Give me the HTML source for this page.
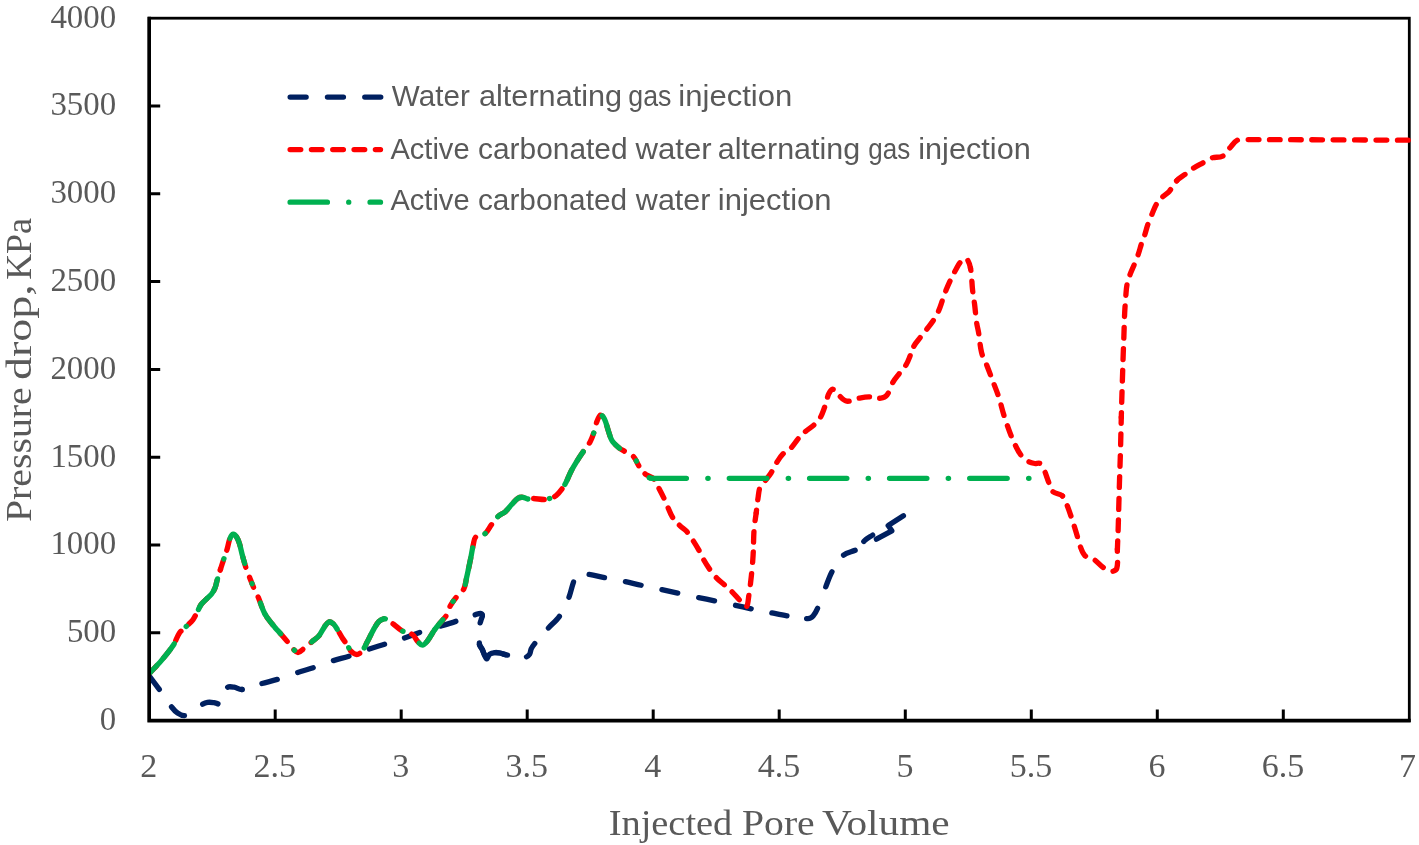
<!DOCTYPE html>
<html><head><meta charset="utf-8"><style>
html,body{margin:0;padding:0;background:#fff;width:1419px;height:845px;overflow:hidden}
svg{display:block}
.ax{font-family:"Liberation Serif",serif;font-size:34px;fill:#595959}
.ttl{font-family:"Liberation Serif",serif;font-size:36px;fill:#595959}
.lg{font-family:"Liberation Sans",sans-serif;font-size:29.4px;fill:#595959}
</style></head><body>
<svg style="will-change:transform" width="1419" height="845" viewBox="0 0 1419 845">
<defs><clipPath id="pc"><rect x="148.2" y="14" width="1266" height="707.5"/></clipPath></defs>
<rect x="0" y="0" width="1419" height="845" fill="#fff"/>
<text x="116.2" y="729.9" text-anchor="end" class="ax" textLength="16.4" lengthAdjust="spacingAndGlyphs">0</text><text x="116.2" y="642.1" text-anchor="end" class="ax" textLength="49.3" lengthAdjust="spacingAndGlyphs">500</text><text x="116.2" y="554.3" text-anchor="end" class="ax" textLength="65.8" lengthAdjust="spacingAndGlyphs">1000</text><text x="116.2" y="466.5" text-anchor="end" class="ax" textLength="65.8" lengthAdjust="spacingAndGlyphs">1500</text><text x="116.2" y="378.7" text-anchor="end" class="ax" textLength="65.8" lengthAdjust="spacingAndGlyphs">2000</text><text x="116.2" y="290.9" text-anchor="end" class="ax" textLength="65.8" lengthAdjust="spacingAndGlyphs">2500</text><text x="116.2" y="203.1" text-anchor="end" class="ax" textLength="65.8" lengthAdjust="spacingAndGlyphs">3000</text><text x="116.2" y="115.3" text-anchor="end" class="ax" textLength="65.8" lengthAdjust="spacingAndGlyphs">3500</text><text x="116.2" y="27.5" text-anchor="end" class="ax" textLength="65.8" lengthAdjust="spacingAndGlyphs">4000</text><text x="148.8" y="777.3" text-anchor="middle" class="ax">2</text><text x="274.8" y="777.3" text-anchor="middle" class="ax">2.5</text><text x="400.8" y="777.3" text-anchor="middle" class="ax">3</text><text x="526.8" y="777.3" text-anchor="middle" class="ax">3.5</text><text x="652.8" y="777.3" text-anchor="middle" class="ax">4</text><text x="778.9" y="777.3" text-anchor="middle" class="ax">4.5</text><text x="904.9" y="777.3" text-anchor="middle" class="ax">5</text><text x="1030.9" y="777.3" text-anchor="middle" class="ax">5.5</text><text x="1156.9" y="777.3" text-anchor="middle" class="ax">6</text><text x="1282.9" y="777.3" text-anchor="middle" class="ax">6.5</text><text x="1407.4" y="777.3" text-anchor="middle" class="ax">7</text>
<g fill="none" stroke-width="5.33" stroke-linecap="round" stroke-linejoin="round">
<rect x="149.2" y="18.2" width="1260.1" height="702.4" fill="none" stroke="#000" stroke-width="2.8" stroke-linejoin="miter"/>
<g clip-path="url(#pc)">
<path d="M149.30,676.10 C152.73,680.67 156.26,685.17 159.60,689.80 C163.69,695.47 167.33,701.49 171.60,707.00 C173.33,709.23 175.30,711.47 177.60,713.00 C179.60,714.33 182.24,715.76 184.50,715.60 C187.04,715.42 189.67,713.47 192.00,712.00 C195.37,709.87 198.22,706.89 201.60,704.80 C203.39,703.69 205.45,702.76 207.50,702.40 C209.59,702.03 211.85,702.36 214.00,702.60 C215.95,702.82 218.49,704.74 219.80,703.80 C222.02,702.21 223.20,698.02 224.60,695.00 C225.73,692.56 225.66,688.81 227.40,687.40 C228.86,686.21 231.98,686.88 234.20,687.20 C236.85,687.58 239.40,689.83 242.00,689.50" stroke="#002060" stroke-dasharray="15.97 21.28 16.09 21.62 15.79 20.48 15.16 177.77" stroke-dashoffset="303.47"/>
<path d="M242.00,689.50 C248.27,688.70 254.51,685.60 260.80,683.80 C266.51,682.17 272.33,680.94 278.00,679.20 C284.36,677.24 290.57,674.76 296.90,672.70 C302.57,670.86 308.35,669.38 314.00,667.50 C320.08,665.48 326.00,662.97 332.10,661.00 C338.10,659.07 344.30,657.74 350.30,655.80 C356.44,653.81 362.38,651.25 368.50,649.20" stroke="#002060" stroke-dasharray="0.25 20.61 15.84 21.62 16.16 21.47 16.15 182.87" stroke-dashoffset="0.00"/>
<path d="M368.50,649.20 C374.12,647.32 379.84,645.77 385.50,644.00 C391.58,642.10 397.67,640.24 403.70,638.20 C409.17,636.34 414.51,634.10 420.00,632.30 C426.81,630.07 433.74,628.20 440.60,626.10 C445.84,624.50 451.09,622.90 456.30,621.20 C462.52,619.17 468.67,616.92 474.90,614.90 C476.81,614.28 478.96,613.21 480.70,613.30 C481.46,613.34 482.35,614.52 482.40,615.30" stroke="#002060" stroke-dasharray="15.95 20.95 16.10 21.98 15.90 20.43 8.53 171.48" stroke-dashoffset="290.50"/>
<path d="M482.40,615.30 C482.49,616.72 481.52,618.36 481.10,619.90 C480.69,621.40 480.00,622.86 479.90,624.40 C479.47,631.12 478.85,638.14 479.50,644.70 C479.68,646.57 481.54,647.98 482.40,649.70 C483.88,652.68 484.93,657.84 486.50,658.80 C487.39,659.34 488.36,655.27 489.80,654.20 C491.13,653.21 493.10,652.80 494.80,652.60 C496.43,652.40 498.17,652.68 499.80,653.00 C501.73,653.38 503.55,654.39 505.50,654.70 C512.08,655.75 519.00,657.23 525.40,657.10 C527.03,657.07 528.67,655.51 529.60,654.20 C530.61,652.78 530.42,650.55 531.20,648.90 C532.05,647.12 533.23,645.44 534.50,643.90 C538.90,638.54 543.55,633.35 548.20,628.20" stroke="#002060" stroke-dasharray="7.91 20.04 12.51 16.68 12.51 19.17 16.04 175.65" stroke-dashoffset="0.00"/>
<path d="M548.20,628.20 C551.91,624.09 556.54,620.65 559.60,616.10 C563.41,610.45 566.21,603.96 568.80,597.60 C570.94,592.36 571.75,586.57 573.80,581.30 C574.81,578.70 575.84,575.08 578.00,574.00 C580.57,572.72 584.71,573.75 588.00,574.20 C593.71,574.98 599.32,576.58 605.00,577.70 C611.49,578.98 618.02,580.05 624.50,581.40 C630.16,582.58 635.75,584.06 641.40,585.30" stroke="#002060" stroke-dasharray="15.97 21.47 15.77 20.57 15.71 21.33 16.06 178.04" stroke-dashoffset="304.59"/>
<path d="M641.40,585.30 C647.89,586.73 654.41,588.00 660.90,589.40 C666.81,590.67 672.70,592.01 678.60,593.30 C685.10,594.71 691.59,596.14 698.10,597.50 C703.72,598.67 709.38,599.73 715.00,600.90 C721.51,602.26 728.00,603.69 734.50,605.10 C740.40,606.39 746.29,607.76 752.20,609.00 C758.39,610.30 764.60,611.49 770.80,612.70" stroke="#002060" stroke-dasharray="16.12 21.50 16.13 21.50 15.99 203.27" stroke-dashoffset="273.51"/>
<path d="M770.80,612.70 C776.73,613.86 782.64,615.15 788.60,616.10 C795.04,617.12 801.67,618.60 808.00,618.60 C809.84,618.60 811.91,617.47 813.10,616.10 C815.31,613.57 816.81,610.11 818.20,606.90 C821.01,600.41 823.10,593.59 825.70,587.00 C827.80,581.69 829.55,576.17 832.30,571.20 C835.35,565.67 838.49,559.52 843.10,555.50 C847.05,552.05 853.64,551.82 858.00,548.80" stroke="#002060" stroke-dasharray="15.37 19.87 16.09 23.03 16.30 20.42 12.47 179.19" stroke-dashoffset="301.65"/>
<path d="M858.00,548.80 C860.81,546.85 862.07,542.98 864.60,540.60 C866.93,538.41 869.93,536.93 872.60,535.10" stroke="#002060" stroke-dasharray="10.92 79.68" stroke-dashoffset="81.22"/>
<path d="M479.50,644.70 C480.47,646.37 481.54,647.98 482.40,649.70 C483.88,652.68 484.93,657.84 486.50,658.80 C487.39,659.34 488.36,655.27 489.80,654.20 C491.13,653.21 493.10,652.80 494.80,652.60 C496.43,652.40 498.17,652.68 499.80,653.00 C501.73,653.38 503.60,654.13 505.50,654.70" stroke="#002060"/><path d="M876.4,539.2 L891.8,530.8 L888.2,525.6 L903.4,515.8" stroke="#002060"/>
<path d="M149.30,673.50 C153.30,669.20 157.51,665.07 161.30,660.60 C165.51,655.64 169.74,650.61 173.30,645.20 C175.74,641.48 176.83,636.86 179.30,633.20 C180.93,630.79 183.49,629.06 185.60,627.00 C187.96,624.69 190.71,622.69 192.70,620.10 C194.65,617.56 195.86,614.45 197.40,611.60 C198.69,609.21 199.62,606.57 201.20,604.40 C202.78,602.23 204.98,600.52 206.90,598.60 C208.45,597.05 210.30,595.74 211.60,594.00 C213.07,592.04 214.30,589.79 215.20,587.50 C216.20,584.95 216.53,582.15 217.30,579.50 C218.30,576.05 219.41,572.63 220.50,569.20" stroke="#FF0000" stroke-dasharray="10.51 10.66 10.66 10.66 10.66 10.62 10.57 10.57 10.57 10.57 10.57 10.57 1.31 178.50" stroke-dashoffset="0.00"/>
<path d="M220.50,569.20 C221.61,565.73 222.76,562.26 223.90,558.80 C224.99,555.50 226.20,552.23 227.20,548.90 C228.24,545.43 228.64,541.69 230.00,538.40 C230.67,536.79 232.08,534.46 233.30,534.20 C234.28,533.99 235.83,535.82 236.60,537.00 C237.90,538.99 238.77,541.39 239.50,543.70 C240.67,547.39 241.29,551.25 242.30,555.00 C243.49,559.42 244.68,563.85 246.10,568.20 C247.21,571.59 248.60,574.88 249.90,578.20 C251.26,581.68 252.60,585.18 254.10,588.60 C255.43,591.64 257.09,594.54 258.40,597.60 C260.76,603.11 262.20,609.11 265.10,614.30" stroke="#FF0000" stroke-dasharray="9.26 10.67 10.76 10.76 10.76 10.76 10.76 10.76 10.76 10.76 10.76 174.84" stroke-dashoffset="0.00"/>
<path d="M265.10,614.30 C267.86,619.24 271.84,623.54 275.40,628.00 C276.81,629.77 278.50,631.30 280.00,633.00 C282.64,636.00 285.25,639.03 287.80,642.10 C290.01,644.76 291.89,647.79 294.30,650.20 C295.35,651.25 296.94,652.74 298.20,652.50 C300.21,652.11 302.20,649.78 304.10,648.30 C306.77,646.22 309.32,643.99 311.90,641.80 C314.32,639.75 317.08,637.99 319.10,635.60 C321.22,633.09 322.39,629.80 324.30,627.10 C325.62,625.24 327.05,622.52 328.80,621.90 C330.08,621.45 332.22,622.80 333.40,623.90 C335.26,625.63 336.49,628.18 337.90,630.40 C339.52,632.94 340.87,635.66 342.50,638.20 C343.93,640.43 345.65,642.48 347.10,644.70" stroke="#FF0000" stroke-dasharray="10.76 10.76 10.76 10.76 10.76 10.76 10.76 10.76 10.76 10.76 10.76 177.81" stroke-dashoffset="293.47"/>
<path d="M347.10,644.70 C348.48,646.81 349.28,649.46 351.00,651.20 C352.51,652.73 354.89,654.50 356.80,654.50 C358.56,654.50 360.72,652.73 362.00,651.20 C364.18,648.60 365.55,645.18 367.20,642.10 C369.49,637.81 371.41,633.32 373.80,629.10 C375.34,626.39 376.87,623.45 379.00,621.30 C380.33,619.95 382.44,619.10 384.20,618.60 C384.81,618.43 385.53,618.95 386.10,619.30 C388.76,620.92 391.36,622.68 393.90,624.50 C396.80,626.58 399.30,629.34 402.40,631.00 C405.46,632.64 409.61,632.52 412.40,634.40 C414.61,635.89 415.52,639.07 417.40,641.10 C418.85,642.67 420.74,645.20 422.40,645.20 C424.04,645.20 425.99,642.76 427.30,641.10 C430.13,637.52 432.09,633.21 434.80,629.50" stroke="#FF0000" stroke-dasharray="10.76 10.76 10.76 10.76 10.76 10.76 10.76 10.76 10.76 10.76 10.76 186.05" stroke-dashoffset="297.70"/>
<path d="M434.80,629.50 C437.35,626.01 440.35,622.85 443.10,619.50 C444.21,618.15 445.59,616.94 446.40,615.40 C448.06,612.24 448.79,608.54 450.50,605.40 C452.09,602.48 454.20,599.80 456.30,597.20 C458.64,594.30 462.11,592.10 463.80,588.90 C465.54,585.60 465.76,581.45 466.60,577.70 C468.09,571.09 469.46,564.44 470.80,557.80 C471.69,553.41 472.27,548.95 473.30,544.60 C473.90,542.05 473.97,538.71 475.70,537.10 C477.84,535.11 482.45,535.72 484.90,533.80 C487.72,531.59 489.24,527.68 491.50,524.70" stroke="#FF0000" stroke-dasharray="10.76 10.76 10.76 10.76 10.76 10.76 10.76 10.76 10.76 10.76 10.76 181.40" stroke-dashoffset="293.28"/>
<path d="M491.50,524.70 C493.64,521.88 495.56,518.80 498.10,516.40 C500.26,514.36 503.35,513.36 505.60,511.40 C507.79,509.49 509.40,506.93 511.40,504.80 C513.53,502.53 515.50,499.82 518.00,498.20 C519.36,497.32 521.37,497.17 523.00,497.30 C524.67,497.43 526.22,498.80 527.90,499.00 C529.52,499.20 531.23,498.45 532.90,498.50 C536.77,498.62 540.65,499.50 544.50,499.50 C546.19,499.50 547.89,499.03 549.50,498.50 C551.76,497.76 554.24,497.11 556.10,495.70 C558.38,493.97 560.16,491.44 561.90,489.10 C563.46,487.01 564.81,484.72 566.00,482.40 C567.91,478.69 569.27,474.70 571.20,471.00 C573.24,467.10 575.57,463.34 577.90,459.60 C579.70,456.71 581.67,453.91 583.60,451.10" stroke="#FF0000" stroke-dasharray="10.76 10.76 10.76 10.76 10.76 10.76 10.76 10.76 10.76 10.76 10.76 190.57" stroke-dashoffset="298.24"/>
<path d="M583.60,451.10 C585.77,447.94 588.37,445.03 590.20,441.70 C591.83,438.73 592.93,435.43 594.00,432.20 C595.13,428.80 595.52,425.12 596.80,421.80 C597.72,419.42 599.11,415.67 600.60,415.10 C601.64,414.70 603.62,417.33 604.40,418.90 C606.15,422.40 606.88,426.52 608.20,430.30 C609.41,433.78 610.08,437.65 612.00,440.70 C613.85,443.65 616.80,446.02 619.50,448.30 C620.90,449.49 622.71,450.15 624.30,451.10 C627.44,452.98 631.19,454.29 633.70,456.80 C635.93,459.03 636.70,462.60 638.50,465.30 C640.50,468.30 642.45,471.56 645.10,473.90 C647.48,476.00 651.40,476.40 653.60,478.60" stroke="#FF0000" stroke-dasharray="10.76 10.76 10.76 10.76 10.76 10.76 10.76 10.76 10.52 10.28 10.09 186.81" stroke-dashoffset="293.86"/>
<path d="M653.60,478.60 C655.80,480.80 656.80,484.23 658.30,487.10 C660.60,491.50 662.88,495.91 665.00,500.40 C667.65,506.01 669.47,512.12 672.60,517.40 C674.50,520.62 677.43,523.23 680.10,525.90 C682.17,527.97 684.88,529.41 686.80,531.60 C689.32,534.48 691.31,537.86 693.40,541.10 C695.65,544.59 697.79,548.16 699.80,551.80 C701.33,554.56 702.44,557.56 704.00,560.30 C705.81,563.49 707.77,566.62 709.90,569.60 C712.00,572.55 714.21,575.48 716.70,578.10 C719.01,580.54 721.77,582.56 724.30,584.80" stroke="#FF0000" stroke-dasharray="0.47 10.83 10.76 10.70 10.51 10.32 10.59 10.86 10.80 10.73 10.81 10.88 10.71 179.05" stroke-dashoffset="0.00"/>
<path d="M724.30,584.80 C726.84,587.06 729.50,589.20 731.90,591.60 C734.57,594.27 736.90,597.26 739.50,600.00 C741.70,602.33 744.87,607.44 746.30,606.80 C747.97,606.04 748.20,599.51 748.80,595.80 C749.90,589.07 750.68,582.28 751.40,575.50 C752.12,568.75 752.71,561.98 753.10,555.20 C753.61,546.48 753.46,537.71 754.10,529.00 C754.50,523.61 755.52,518.27 756.20,512.90" stroke="#FF0000" stroke-dasharray="10.75 10.97 10.97 10.97 11.06 11.15 10.51 9.87 10.47 11.06 7.95 186.63" stroke-dashoffset="291.91"/>
<path d="M756.20,512.90 C756.88,507.54 757.38,502.14 758.20,496.80 C758.71,493.44 758.88,489.83 760.20,486.80 C761.22,484.46 763.58,482.77 765.20,480.70 C767.25,478.07 769.42,475.51 771.20,472.70 C773.45,469.14 775.05,465.16 777.30,461.60 C779.08,458.79 780.97,455.93 783.30,453.60 C785.67,451.23 789.03,449.87 791.40,447.50 C794.06,444.84 795.90,441.35 798.40,438.50 C800.60,435.99 802.98,433.59 805.50,431.40 C808.01,429.22 811.09,427.67 813.50,425.40 C816.09,422.97 818.75,420.35 820.50,417.30 C822.78,413.32 824.06,408.69 825.60,404.30" stroke="#FF0000" stroke-dasharray="2.76 10.35 10.64 10.94 10.81 10.68 10.66 10.63 10.56 10.48 10.54 10.59 10.59 183.44" stroke-dashoffset="0.00"/>
<path d="M825.60,404.30 C826.76,400.99 827.15,397.33 828.60,394.20 C829.48,392.30 831.16,389.06 832.60,389.20 C834.53,389.39 836.53,393.36 838.70,395.20 C841.23,397.36 843.72,400.75 846.70,401.20 C850.42,401.75 854.73,399.01 858.80,398.20 C862.10,397.54 865.46,396.80 868.80,396.80 C872.83,396.80 877.01,398.54 880.90,398.20 C883.04,398.01 885.62,396.90 886.90,395.20 C889.65,391.53 890.63,386.26 893.00,382.10 C894.69,379.13 897.03,376.54 899.10,373.80 C901.43,370.74 904.20,367.96 906.20,364.70 C907.90,361.92 908.93,358.73 910.20,355.70" stroke="#FF0000" stroke-dasharray="10.40 10.21 10.38 10.54 10.38 10.21 10.73 11.25 10.94 10.63 10.55 181.39" stroke-dashoffset="290.24"/>
<path d="M910.20,355.70 C911.60,352.36 912.46,348.74 914.20,345.60 C915.80,342.71 918.17,340.25 920.20,337.60 C922.54,334.55 924.96,331.55 927.30,328.50 C929.33,325.85 931.49,323.29 933.30,320.50 C935.19,317.59 936.97,314.56 938.40,311.40 C940.00,307.86 941.07,304.07 942.40,300.40 C943.74,296.70 944.95,292.95 946.40,289.30 C947.62,286.22 948.98,283.19 950.40,280.20 C952.01,276.82 953.68,273.46 955.50,270.20 C957.04,267.43 958.36,264.28 960.50,262.10 C962.02,260.55 965.16,258.18 966.50,259.00 C968.49,260.22 969.87,264.95 970.50,268.20" stroke="#FF0000" stroke-dasharray="10.69 10.91 10.78 10.64 10.72 10.80 10.68 10.56 10.31 10.06 8.20 184.45" stroke-dashoffset="288.74"/>
<path d="M970.50,268.20 C971.90,275.39 971.77,282.95 972.60,290.30 C973.13,295.02 974.01,299.69 974.60,304.40 C975.35,310.42 975.75,316.50 976.60,322.50 C977.08,325.90 978.04,329.21 978.60,332.60 C979.71,339.28 979.97,346.17 981.60,352.70 C982.64,356.87 985.01,360.67 986.60,364.70 C988.71,370.04 990.68,375.43 992.70,380.80 C994.71,386.16 996.93,391.46 998.70,396.90" stroke="#FF0000" stroke-dasharray="2.23 10.80 10.68 10.56 10.59 10.63 10.68 10.73 10.78 10.83 10.65 10.47 10.63 182.72" stroke-dashoffset="0.00"/>
<path d="M998.70,396.90 C1000.63,402.83 1001.98,408.94 1003.80,414.90 C1005.11,419.20 1006.61,423.46 1008.10,427.70 C1009.11,430.56 1010.14,433.40 1011.30,436.20 C1012.64,439.44 1014.01,442.68 1015.60,445.80 C1017.21,448.95 1018.70,452.29 1020.90,455.00 C1022.93,457.49 1025.58,459.72 1028.30,461.40 C1030.18,462.56 1032.52,463.11 1034.70,463.50 C1036.45,463.81 1038.81,462.59 1040.10,463.50 C1042.01,464.85 1043.19,467.89 1044.30,470.30 C1046.03,474.06 1047.06,478.14 1048.60,482.00 C1049.89,485.24 1050.50,489.29 1052.80,491.60 C1055.10,493.92 1059.97,493.66 1062.40,495.90" stroke="#FF0000" stroke-dasharray="10.85 10.92 10.79 10.66 10.71 10.76 10.80 10.84 10.64 10.43 10.58 184.63" stroke-dashoffset="294.28"/>
<path d="M1062.40,495.90 C1064.60,497.93 1065.46,501.48 1066.70,504.40 C1068.32,508.22 1069.64,512.18 1071.00,516.10 C1072.10,519.28 1073.10,522.49 1074.10,525.70 C1075.20,529.22 1076.24,532.77 1077.30,536.30 C1078.37,539.87 1079.15,543.55 1080.50,547.00 C1081.65,549.95 1082.60,553.47 1084.80,555.50 C1087.23,557.74 1091.49,557.92 1094.40,559.80 C1097.52,561.82 1099.83,565.09 1102.90,567.20 C1105.50,568.99 1108.61,571.28 1111.40,571.50 C1113.24,571.65 1116.31,570.14 1116.80,568.30 C1118.31,562.67 1117.18,555.50 1117.40,549.10" stroke="#FF0000" stroke-dasharray="0.12 10.96 10.87 10.78 10.77 10.76 10.65 10.55 10.72 10.89 10.89 10.89 2.59 171.44" stroke-dashoffset="0.00"/>
<path d="M1117.40,549.10 C1117.65,542.00 1117.97,534.90 1118.20,527.80 C1118.47,519.30 1118.66,510.80 1118.90,502.30 C1119.10,495.20 1119.28,488.10 1119.50,481.00 C1119.78,471.77 1120.14,462.53 1120.40,453.30 C1120.74,441.27 1120.98,429.23 1121.30,417.20" stroke="#FF0000" stroke-dasharray="8.09 10.48 10.56 10.65 10.89 11.14 10.75 10.36 10.63 10.90 10.78 10.65 6.08 181.96" stroke-dashoffset="0.00"/>
<path d="M1121.30,417.20 C1121.52,409.00 1121.76,400.80 1122.00,392.60 C1122.19,386.27 1122.40,379.93 1122.60,373.60 C1122.80,367.30 1122.98,361.00 1123.20,354.70 C1123.42,348.40 1123.68,342.10 1123.90,335.80 C1124.12,329.47 1124.25,323.13 1124.50,316.80 C1124.65,313.03 1124.86,309.26 1125.10,305.50 C1125.30,302.33 1125.51,299.16 1125.80,296.00" stroke="#FF0000" stroke-dasharray="4.47 10.45 10.57 10.70 10.74 10.78 10.75 10.72 10.77 10.83 10.66 171.29" stroke-dashoffset="0.00"/>
<path d="M1125.80,296.00 C1126.15,292.20 1126.25,288.33 1127.00,284.60 C1127.71,281.06 1128.97,277.61 1130.20,274.20 C1131.34,271.04 1132.84,268.02 1134.10,264.90 C1135.54,261.35 1137.04,257.82 1138.30,254.20 C1139.51,250.72 1140.33,247.10 1141.50,243.60 C1142.47,240.70 1143.73,237.90 1144.70,235.00 C1145.87,231.50 1146.68,227.88 1147.90,224.40 C1149.18,220.78 1150.70,217.24 1152.20,213.70 C1153.57,210.47 1154.66,207.05 1156.50,204.10 C1158.20,201.38 1160.52,198.98 1162.80,196.70 C1164.75,194.75 1167.40,193.47 1169.20,191.40 C1172.03,188.14 1173.76,183.84 1176.70,180.70" stroke="#FF0000" stroke-dasharray="10.53 10.56 10.71 10.86 10.67 10.49 10.70 10.90 10.64 10.37 10.50 10.63 0.28 179.13" stroke-dashoffset="306.33"/>
<path d="M1176.70,180.70 C1179.09,178.14 1182.37,176.43 1185.20,174.30 C1188.03,172.17 1190.73,169.82 1193.70,167.90 C1196.76,165.92 1200.10,164.37 1203.30,162.60 C1206.13,161.03 1208.77,158.91 1211.80,157.90 C1215.17,156.78 1219.54,157.86 1222.50,156.20 C1225.60,154.46 1227.43,150.46 1230.00,147.70 C1232.39,145.13 1234.44,141.61 1237.40,140.20 C1240.10,138.91 1243.79,139.60 1247.00,139.60 C1300.99,139.60 1355.00,140.00 1409.00,140.20" stroke="#FF0000" stroke-dasharray="10.39 10.71 10.75 10.79 10.69 10.59 10.77 10.94 10.75 10.57 10.57 10.57 10.57 10.57 10.64 10.72 10.72 10.72 10.72 10.72 10.72 10.72 10.69 296.66" stroke-dashoffset="0.00"/>
<path d="M149.30,673.50 C153.30,669.20 157.51,665.07 161.30,660.60 C165.51,655.64 169.74,650.61 173.30,645.20 C175.74,641.48 176.83,636.86 179.30,633.20 C180.93,630.79 183.49,629.06 185.60,627.00 C187.96,624.69 190.71,622.69 192.70,620.10 C194.65,617.56 195.86,614.45 197.40,611.60 C198.69,609.21 199.62,606.57 201.20,604.40 C202.78,602.23 204.98,600.52 206.90,598.60 C208.45,597.05 210.30,595.74 211.60,594.00 C213.07,592.04 214.30,589.79 215.20,587.50 C216.20,584.95 216.53,582.15 217.30,579.50 C218.30,576.05 219.41,572.63 220.50,569.20" stroke="#00B050" stroke-dasharray="37.31 21.32 0.30 20.78 36.87 180.11" stroke-dashoffset="295.08"/>
<path d="M220.50,569.20 C221.61,565.73 222.76,562.26 223.90,558.80 C224.99,555.50 226.20,552.23 227.20,548.90 C228.24,545.43 228.64,541.69 230.00,538.40 C230.67,536.79 232.08,534.46 233.30,534.20 C234.28,533.99 235.83,535.82 236.60,537.00 C237.90,538.99 238.77,541.39 239.50,543.70 C240.67,547.39 241.29,551.25 242.30,555.00 C243.49,559.42 244.68,563.85 246.10,568.20 C247.21,571.59 248.60,574.88 249.90,578.20 C251.26,581.68 252.60,585.18 254.10,588.60 C255.43,591.64 257.09,594.54 258.40,597.60 C260.76,603.11 262.20,609.11 265.10,614.30" stroke="#00B050" stroke-dasharray="0.30 21.14 37.50 21.43 0.30 21.04 12.36 185.61" stroke-dashoffset="288.91"/>
<path d="M265.10,614.30 C267.86,619.24 271.84,623.54 275.40,628.00 C276.81,629.77 278.50,631.30 280.00,633.00 C282.64,636.00 285.25,639.03 287.80,642.10 C290.01,644.76 291.89,647.79 294.30,650.20 C295.35,651.25 296.94,652.74 298.20,652.50 C300.21,652.11 302.20,649.78 304.10,648.30 C306.77,646.22 309.32,643.99 311.90,641.80 C314.32,639.75 317.08,637.99 319.10,635.60 C321.22,633.09 322.39,629.80 324.30,627.10 C325.62,625.24 327.05,622.52 328.80,621.90 C330.08,621.45 332.22,622.80 333.40,623.90 C335.26,625.63 336.49,628.18 337.90,630.40 C339.52,632.94 340.87,635.66 342.50,638.20 C343.93,640.43 345.65,642.48 347.10,644.70" stroke="#00B050" stroke-dasharray="24.96 21.33 0.30 21.60 38.33 175.11" stroke-dashoffset="0.00"/>
<path d="M347.10,644.70 C348.48,646.81 349.28,649.46 351.00,651.20 C352.51,652.73 354.89,654.50 356.80,654.50 C358.56,654.50 360.72,652.73 362.00,651.20 C364.18,648.60 365.55,645.18 367.20,642.10 C369.49,637.81 371.41,633.32 373.80,629.10 C375.34,626.39 376.87,623.45 379.00,621.30 C380.33,619.95 382.44,619.10 384.20,618.60 C384.81,618.43 385.53,618.95 386.10,619.30 C388.76,620.92 391.36,622.68 393.90,624.50 C396.80,626.58 399.30,629.34 402.40,631.00 C405.46,632.64 409.61,632.52 412.40,634.40 C414.61,635.89 415.52,639.07 417.40,641.10 C418.85,642.67 420.74,645.20 422.40,645.20 C424.04,645.20 425.99,642.76 427.30,641.10 C430.13,637.52 432.09,633.21 434.80,629.50" stroke="#00B050" stroke-dasharray="0.30 21.06 37.37 21.35 0.30 20.96 24.69 182.66" stroke-dashoffset="305.37"/>
<path d="M434.80,629.50 C437.35,626.01 440.35,622.85 443.10,619.50 C444.21,618.15 445.59,616.94 446.40,615.40 C448.06,612.24 448.79,608.54 450.50,605.40 C452.09,602.48 454.20,599.80 456.30,597.20 C458.64,594.30 462.11,592.10 463.80,588.90 C465.54,585.60 465.76,581.45 466.60,577.70 C468.09,571.09 469.46,564.44 470.80,557.80 C471.69,553.41 472.27,548.95 473.30,544.60 C473.90,542.05 473.97,538.71 475.70,537.10 C477.84,535.11 482.45,535.72 484.90,533.80 C487.72,531.59 489.24,527.68 491.50,524.70" stroke="#00B050" stroke-dasharray="12.50 21.25 0.30 20.96 37.19 21.25 0.30 174.92" stroke-dashoffset="0.00"/>
<path d="M491.50,524.70 C493.64,521.88 495.56,518.80 498.10,516.40 C500.26,514.36 503.35,513.36 505.60,511.40 C507.79,509.49 509.40,506.93 511.40,504.80 C513.53,502.53 515.50,499.82 518.00,498.20 C519.36,497.32 521.37,497.17 523.00,497.30 C524.67,497.43 526.22,498.80 527.90,499.00 C529.52,499.20 531.23,498.45 532.90,498.50 C536.77,498.62 540.65,499.50 544.50,499.50 C546.19,499.50 547.89,499.03 549.50,498.50 C551.76,497.76 554.24,497.11 556.10,495.70 C558.38,493.97 560.16,491.44 561.90,489.10 C563.46,487.01 564.81,484.72 566.00,482.40 C567.91,478.69 569.27,474.70 571.20,471.00 C573.24,467.10 575.57,463.34 577.90,459.60 C579.70,456.71 581.67,453.91 583.60,451.10" stroke="#00B050" stroke-dasharray="37.93 21.68 0.30 21.21 37.64 190.09" stroke-dashoffset="298.64"/>
<path d="M583.60,451.10 C585.77,447.94 588.37,445.03 590.20,441.70 C591.83,438.73 592.93,435.43 594.00,432.20 C595.13,428.80 595.52,425.12 596.80,421.80 C597.72,419.42 599.11,415.67 600.60,415.10 C601.64,414.70 603.62,417.33 604.40,418.90 C606.15,422.40 606.88,426.52 608.20,430.30 C609.41,433.78 610.08,437.65 612.00,440.70 C613.85,443.65 616.80,446.02 619.50,448.30 C620.90,449.49 622.71,450.15 624.30,451.10 C627.44,452.98 631.19,454.29 633.70,456.80 C635.93,459.03 636.70,462.60 638.50,465.30 C640.50,468.30 642.69,471.24 645.10,473.90 C646.52,475.47 648.06,477.43 650.00,478.00" stroke="#00B050" stroke-dasharray="0.30 21.17 37.56 21.46 0.30 21.13 1.05 194.17" stroke-dashoffset="276.54"/>
<path d="M650.00,478.00 C653.03,478.90 656.67,478.30 660.00,478.30 C783.67,478.40 907.33,478.30 1031.00,478.30" stroke="#00B050" stroke-dasharray="36.44 21.42 0.30 21.15 37.52 21.44 0.30 21.02 37.30 21.31 0.30 21.06 37.36 21.35 0.30 21.15 37.52 21.44 0.30 431.05" stroke-dashoffset="0.00"/>
</g>
<path d="M149.2,16.7 V720.6 H1410.7" fill="none" stroke="#000" stroke-width="3.6" stroke-linecap="butt" stroke-linejoin="miter"/>
<path d="M149.2,632.8 H160.2 M149.2,545.0 H160.2 M149.2,457.2 H160.2 M149.2,369.4 H160.2 M149.2,281.6 H160.2 M149.2,193.8 H160.2 M149.2,106.0 H160.2 M275.2,720.6 V709.6 M401.2,720.6 V709.6 M527.2,720.6 V709.6 M653.2,720.6 V709.6 M779.2,720.6 V709.6 M905.3,720.6 V709.6 M1031.3,720.6 V709.6 M1157.3,720.6 V709.6 M1283.3,720.6 V709.6" stroke="#000" stroke-width="3" fill="none" stroke-linecap="butt"/>
<path d="M287.5,97.1 H383.1" stroke="#002060" stroke-dasharray="15.99 21.32" transform="translate(2.65,0)"/>
<path d="M290.1,149.6 H380.5" stroke="#FF0000" stroke-dasharray="10.66 10.66"/>
<path d="M290.1,202.2 H380.5" stroke="#00B050" stroke-dasharray="37.31 21.32 0.01 21.32"/>
</g>
<text class="lg" x="391.89" y="106.1" textLength="77.92" lengthAdjust="spacingAndGlyphs">Water</text>
<text class="lg" x="478.98" y="106.1" textLength="143.17" lengthAdjust="spacingAndGlyphs">alternating</text>
<text class="lg" x="628.34" y="106.1" textLength="43.13" lengthAdjust="spacingAndGlyphs">gas</text>
<text class="lg" x="678.34" y="106.1" textLength="113.91" lengthAdjust="spacingAndGlyphs">injection</text>
<text class="lg" x="390.39" y="158.8" textLength="79.21" lengthAdjust="spacingAndGlyphs">Active</text>
<text class="lg" x="477.98" y="158.8" textLength="149.66" lengthAdjust="spacingAndGlyphs">carbonated</text>
<text class="lg" x="635.40" y="158.8" textLength="76.21" lengthAdjust="spacingAndGlyphs">water</text>
<text class="lg" x="717.87" y="158.8" textLength="142.36" lengthAdjust="spacingAndGlyphs">alternating</text>
<text class="lg" x="868.24" y="158.8" textLength="41.99" lengthAdjust="spacingAndGlyphs">gas</text>
<text class="lg" x="918.23" y="158.8" textLength="112.61" lengthAdjust="spacingAndGlyphs">injection</text>
<text class="lg" x="390.39" y="210.4" textLength="79.21" lengthAdjust="spacingAndGlyphs">Active</text>
<text class="lg" x="477.98" y="210.4" textLength="149.15" lengthAdjust="spacingAndGlyphs">carbonated</text>
<text class="lg" x="635.88" y="210.4" textLength="74.52" lengthAdjust="spacingAndGlyphs">water</text>
<text class="lg" x="717.80" y="210.4" textLength="113.69" lengthAdjust="spacingAndGlyphs">injection</text>
<text class="ttl" x="608.68" y="834.8" textLength="123.62" lengthAdjust="spacingAndGlyphs">Injected</text>
<text class="ttl" x="742.06" y="834.8" textLength="72.69" lengthAdjust="spacingAndGlyphs">Pore</text>
<text class="ttl" x="822.00" y="834.8" textLength="127.62" lengthAdjust="spacingAndGlyphs">Volume</text>
<text class="ttl" transform="translate(31.4,522.01) rotate(-90)" textLength="134.63" lengthAdjust="spacingAndGlyphs">Pressure</text>
<text class="ttl" transform="translate(31.4,380.07) rotate(-90)" textLength="95.73" lengthAdjust="spacingAndGlyphs">drop,</text>
<text class="ttl" transform="translate(31.4,279.84) rotate(-90)" textLength="61.88" lengthAdjust="spacingAndGlyphs">KPa</text>
</svg>
</body></html>
